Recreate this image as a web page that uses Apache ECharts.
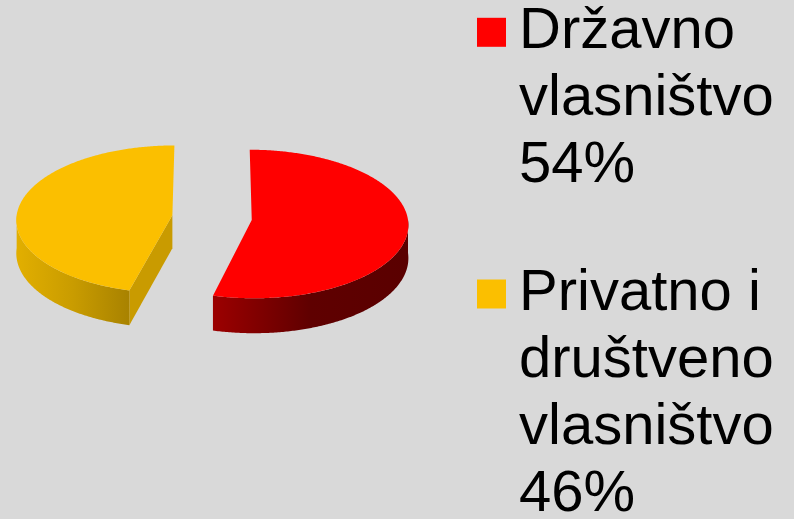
<!DOCTYPE html>
<html>
<head>
<meta charset="utf-8">
<script src="https://cdn.jsdelivr.net/npm/echarts@6/dist/echarts.min.js"></script>
<style>
  html, body { margin: 0; padding: 0; background: #d9d9d9; }
  #chart { width: 794px; height: 519px; }
</style>
</head>
<body>
<div id="chart"></div>
<script>
// podaci
var names = ['Državno vlasništvo', 'Privatno i društveno vlasništvo']
var labels = ['Državno\nvlasništvo', 'Privatno i\ndruštveno\nvlasništvo']
var values = [54, 46]

// boje: gornja ploha, bočni zid (lijevo/desno), ploha reza
var topColors = ['#ff0000', '#fbbf00']
var wallColors = [['#9c0000', '#5f0000', '#5a0000'], ['#e2af00', '#c99c00', '#a88200']]
var cutColors = ['#6e0000', '#c99b00']

// geometrija 3D pite (px)
var CX = 212
var CY = 217.6
var RX = 156
var RY = 73.8
var K = 0.054 // perspektiva
var DEPTH = 33
var EXPLODE = 40 / 156

var total = values.reduce(function (a, b) { return a + b }, 0)

function project (u, v, down) {
  var s = 1 / (1 - K * v)
  return [CX + RX * u * s, CY + RY * v * s + (down ? DEPTH * s : 0)]
}

function renderSlice (idx) {
  return function (params, api) {
    var start = 0
    for (var i = 0; i < idx; i++) start += values[i]
    var a0 = start / total * Math.PI * 2
    var a1 = (start + api.value(0)) / total * Math.PI * 2
    var mid = (a0 + a1) / 2
    var ou = EXPLODE * Math.sin(mid)
    var ov = -EXPLODE * Math.cos(mid)
    var rim = function (t, down) { return project(ou + Math.sin(t), ov - Math.cos(t), down) }
    var centre = function (down) { return project(ou, ov, down) }
    var arc = function (t0, t1, down) {
      var pts = []
      var n = Math.max(2, Math.ceil(Math.abs(t1 - t0) / 0.01))
      for (var j = 0; j <= n; j++) pts.push(rim(t0 + (t1 - t0) * j / n, down))
      return pts
    }
    var children = []
    // plohe reza koje se vide
    if (Math.sin(a0) < -1e-6) {
      children.push({
        type: 'polygon',
        shape: { points: [centre(false), rim(a0, false), rim(a0, true), centre(true)] },
        style: { fill: cutColors[idx] }
      })
    }
    if (Math.sin(a1) > 1e-6) {
      children.push({
        type: 'polygon',
        shape: { points: [centre(false), rim(a1, false), rim(a1, true), centre(true)] },
        style: { fill: cutColors[idx] }
      })
    }
    // prednji bočni zid
    var w0 = Math.max(a0, Math.PI / 2)
    var w1 = Math.min(a1, Math.PI * 1.5)
    if (w1 > w0) {
      var c = wallColors[idx]
      children.push({
        type: 'polygon',
        shape: { points: arc(w0, w1, false).concat(arc(w1, w0, true)) },
        style: {
          fill: new echarts.graphic.LinearGradient(0, 0, 1, 0, [
            { offset: 0, color: c[0] },
            { offset: 0.5, color: c[1] },
            { offset: 1, color: c[2] }
          ])
        }
      })
    }
    // gornja ploha
    children.push({
      type: 'polygon',
      shape: { points: [centre(false)].concat(arc(a0, a1, false)) },
      style: { fill: topColors[idx] }
    })
    return { type: 'group', children: children }
  }
}

// legenda: ikona poravnata s prvim redom teksta (prazni redovi iznad)
var legendTops = [-135.2, 59.5]

var option = {
  backgroundColor: '#d9d9d9',
  animation: false,
  legend: names.map(function (name, i) {
    return {
      data: [name],
      orient: 'vertical',
      left: 477,
      top: legendTops[i],
      padding: 0,
      icon: 'rect',
      itemWidth: 29,
      itemHeight: 29,
      selectedMode: false,
      formatter: function (n) {
        var k = names.indexOf(n)
        var pct = Math.round(values[k] / total * 100) + '%'
        var lines = labels[k].split('\n').concat([pct])
        return new Array(lines.length).join('\n') + lines.join('\n')
      },
      textStyle: {
        color: '#000',
        fontFamily: 'Liberation Sans, Arial, sans-serif',
        fontSize: 58,
        lineHeight: 67,
        padding: [0, 0, 0, 8]
      }
    }
  }),
  series: names.map(function (name, i) {
    return {
      type: 'custom',
      name: name,
      coordinateSystem: 'none',
      silent: true,
      itemStyle: { color: topColors[i] },
      renderItem: renderSlice(i),
      data: [values[i]]
    }
  })
}

var myChart = echarts.init(document.getElementById('chart'))
myChart.setOption(option)
</script>
</body>
</html>
